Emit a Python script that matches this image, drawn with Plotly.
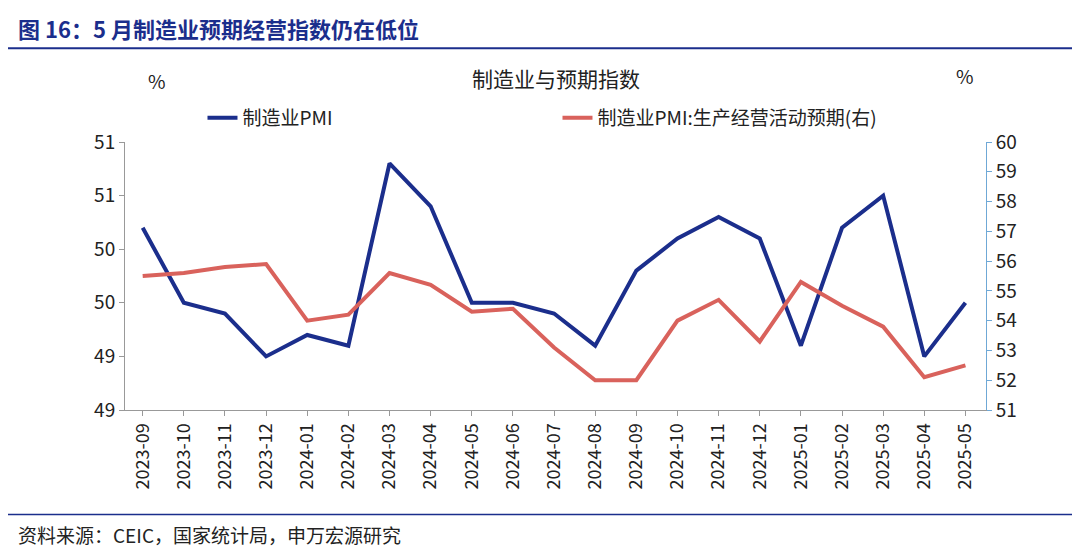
import plotly.graph_objects as go

months = ["2023-09", "2023-10", "2023-11", "2023-12", "2024-01", "2024-02", "2024-03",
          "2024-04", "2024-05", "2024-06", "2024-07", "2024-08", "2024-09", "2024-10",
          "2024-11", "2024-12", "2025-01", "2025-02", "2025-03", "2025-04", "2025-05"]
pmi = [50.2, 49.5, 49.4, 49.0, 49.2, 49.1, 50.8, 50.4, 49.5, 49.5, 49.4, 49.1, 49.8, 50.1,
       50.3, 50.1, 49.1, 50.2, 50.5, 49.0, 49.5]
expect = [55.5, 55.6, 55.8, 55.9, 54.0, 54.2, 55.6, 55.2, 54.3, 54.4, 53.1, 52.0, 52.0, 54.0,
          54.7, 53.3, 55.3, 54.5, 53.8, 52.1, 52.5]
left_ticks = [48.5, 49.0, 49.5, 50.0, 50.5, 51.0]
left_labels = ["49", "49", "50", "50", "51", "51"]

navy = "#1B2E8C"
red = "#D9625C"
font = "Noto Sans CJK SC"

fig = go.Figure()
fig.add_trace(go.Scatter(x=months, y=pmi, name="制造业PMI", mode="lines",
                         line=dict(color=navy, width=4)))
fig.add_trace(go.Scatter(x=months, y=expect, name="制造业PMI:生产经营活动预期(右)", mode="lines",
                         line=dict(color=red, width=4), yaxis="y2"))

fig.update_layout(
    width=1080, height=549, plot_bgcolor="white", paper_bgcolor="white",
    font=dict(family=font, size=19, color="#222"),
    margin=dict(l=117, r=102, t=134, b=147),
    showlegend=True,
    legend=dict(orientation="h", x=0.09, xanchor="left", y=1.09, yanchor="middle",
                font=dict(size=19), entrywidth=310),
    xaxis=dict(type="category", range=[-0.43, 20.5], tickangle=-90, showline=True,
               linecolor="#999", ticks="outside", tickcolor="#999", tickfont=dict(size=18)),
    yaxis=dict(range=[48.5, 51.0], tickvals=left_ticks, ticktext=left_labels,
               showline=True, linecolor="#999", ticks="outside", tickcolor="#999",
               showgrid=False, tickfont=dict(size=19)),
    yaxis2=dict(range=[51, 60], dtick=1, overlaying="y", side="right", showline=True,
                linecolor="#6FA8D6", ticks="outside", tickcolor="#6FA8D6",
                showgrid=False, tickfont=dict(size=19)),
    annotations=[
        dict(text="<b>图 16：5 月制造业预期经营指数仍在低位</b>", xref="paper", yref="paper",
             x=-0.127, y=1.425, xanchor="left", yanchor="middle", showarrow=False,
             font=dict(size=22, color=navy)),
        dict(text="制造业与预期指数", xref="paper", yref="paper", x=0.5, y=1.24,
             yanchor="middle", showarrow=False, font=dict(size=21)),
        dict(text="%", xref="paper", yref="paper", x=0.024, y=1.23, yanchor="middle",
             showarrow=False, font=dict(size=19)),
        dict(text="%", xref="paper", yref="paper", x=0.988, y=1.25, yanchor="middle",
             showarrow=False, font=dict(size=19)),
        dict(text="资料来源：CEIC，国家统计局，申万宏源研究", xref="paper", yref="paper",
             x=-0.127, y=-0.466, xanchor="left", yanchor="middle", showarrow=False,
             font=dict(size=19)),
    ],
    shapes=[
        dict(type="line", xref="paper", yref="paper", x0=-0.136, x1=1.118, y0=1.35, y1=1.35,
             line=dict(color=navy, width=2)),
        dict(type="line", xref="paper", yref="paper", x0=-0.136, x1=1.118, y0=-0.39, y1=-0.39,
             line=dict(color=navy, width=1.5)),
    ],
)

fig.write_html("out.html")
